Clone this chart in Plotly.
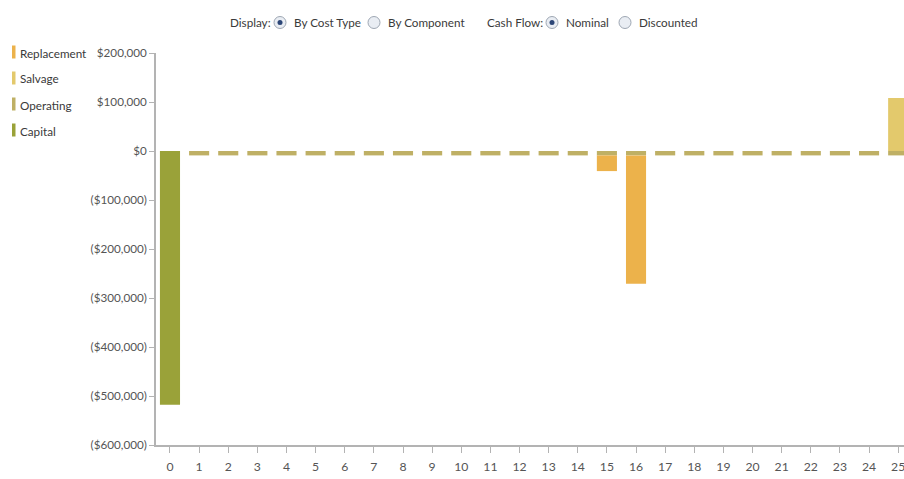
import plotly.graph_objects as go

# ---------------- data ----------------
years = list(range(0, 26))
capital = [-518000] + [0] * 25
operating = [0, -9000, -9000, -9000, -9000, -9000, -9000, -9000, -9000, -9000,
             -9000, -9000, -9000, -9000, -9000, -9000, -9000, -9000, -9000, -9000,
             -9000, -9000, -9000, -9000, -9000, -9000]
replacement = [0] * 15 + [-32000, -262000] + [0] * 9
salvage = [0] * 25 + [108000]

series_names = ["Replacement", "Salvage", "Operating", "Capital"]
series_colors = {"Replacement": "#ECB24B", "Salvage": "#E3C96C",
                 "Operating": "#BFB065", "Capital": "#9AA239"}

y_tickvals = [200000, 100000, 0, -100000, -200000, -300000, -400000, -500000, -600000]
y_ticktext = ["$200,000", "$100,000", "$0", "($100,000)", "($200,000)", "($300,000)",
              "($400,000)", "($500,000)", "($600,000)"]

# ---------------- layout geometry (pixels) ----------------
W, H = 904, 479
L, R, T, B = 156, 0, 53, 34
PW, PH = W - L - R, H - T - B

def px(x):
    return (x - L) / PW

def py(y):
    return (H - B - y) / PH

FONT = "Lato, 'Open Sans', sans-serif"
FS = 11.7
TXT = "#3a3a3a"

fig = go.Figure()
for name, vals in [("Capital", capital), ("Operating", operating),
                   ("Replacement", replacement), ("Salvage", salvage)]:
    fig.add_trace(go.Bar(x=years, y=vals, name=name, width=0.69,
                         marker=dict(color=series_colors[name], line=dict(width=0)),
                         showlegend=False))

shapes = []
annotations = []

# custom legend (narrow colour bars)
for i, name in enumerate(series_names):
    cy = 52 + 26 * i
    shapes.append(dict(type="rect", xref="paper", yref="paper",
                       x0=px(12), x1=px(15.5), y0=py(cy + 6.5), y1=py(cy - 6.5),
                       fillcolor=series_colors[name], line=dict(width=0)))
    annotations.append(dict(text=name, xref="paper", yref="paper", x=px(17.5), y=py(cy + 0.5),
                            xanchor="left", yanchor="middle", showarrow=False,
                            font=dict(family=FONT, size=FS, color=TXT)))

# header controls
controls = [("label", "Display:", 229), ("radio_on", "By Cost Type", 280),
            ("radio_off", "By Component", 374),
            ("label", "Cash Flow:", 486), ("radio_on", "Nominal", 552),
            ("radio_off", "Discounted", 625)]
hy = 22.5
for kind, text, x in controls:
    if kind == "label":
        annotations.append(dict(text=text, xref="paper", yref="paper", x=px(x - 1), y=py(hy),
                                xanchor="left", yanchor="middle", showarrow=False,
                                font=dict(family=FONT, size=FS, color=TXT)))
    else:
        r = 6
        shapes.append(dict(type="circle", xref="paper", yref="paper",
                           x0=px(x - r), x1=px(x + r), y0=py(hy + r), y1=py(hy - r),
                           fillcolor="#e9edf3", line=dict(color="#9ea7b3", width=1)))
        if kind == "radio_on":
            d = 2.5
            shapes.append(dict(type="circle", xref="paper", yref="paper",
                               x0=px(x - d), x1=px(x + d), y0=py(hy + d), y1=py(hy - d),
                               fillcolor="#2c4677", line=dict(width=0)))
        annotations.append(dict(text=text, xref="paper", yref="paper", x=px(x + 12), y=py(hy),
                                xanchor="left", yanchor="middle", showarrow=False,
                                font=dict(family=FONT, size=FS, color=TXT)))

fig.update_layout(
    width=W, height=H,
    margin=dict(l=L, r=R, t=T, b=B, pad=0),
    barmode="relative",
    bargap=0.3,
    paper_bgcolor="white", plot_bgcolor="white",
    showlegend=False,
    shapes=shapes, annotations=annotations,
    font=dict(family=FONT, size=FS, color="#555555"),
    xaxis=dict(range=[-0.48, 25.2], tickmode="array", tickvals=years,
               ticktext=[str(y) for y in years],
               showline=True, linecolor="#b3b3b3", linewidth=1.5,
               ticks="outside", ticklen=6, tickcolor="#b3b3b3",
               ticklabeloverflow="allow", ticklabelstandoff=4,
               showgrid=False, zeroline=False, automargin=False,
               tickfont=dict(family=FONT, size=FS + 0.5, color="#555555")),
    yaxis=dict(range=[-600000, 200000], tickmode="array", tickvals=y_tickvals,
               ticktext=y_ticktext,
               showline=True, linecolor="#b3b3b3", linewidth=1.5,
               ticks="outside", ticklen=5, tickcolor="#b3b3b3",
               showgrid=False, zeroline=False, automargin=False,
               tickfont=dict(family=FONT, size=FS, color="#555555")),
)

fig.write_html("out.html")
